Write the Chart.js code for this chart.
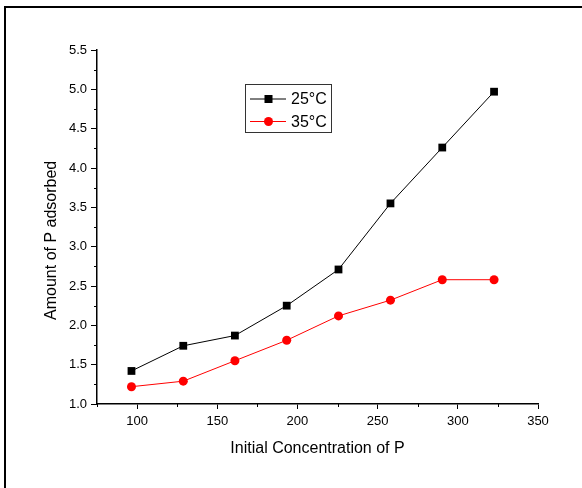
<!DOCTYPE html>
<html>
<head>
<meta charset="utf-8">
<script src="https://cdn.jsdelivr.net/npm/chart.js@4/dist/chart.umd.min.js"></script>
<style>
  html, body { margin: 0; padding: 0; background: #fff; }
  #wrap { position: relative; width: 582px; height: 488px; overflow: hidden; }
  #frame { position: absolute; left: 4px; top: 6px; width: 600px; height: 500px; border: 2px solid #000; box-sizing: border-box; }
  canvas { position: absolute; left: 0; top: 0; }
</style>
</head>
<body>
<div id="wrap">
  <div id="frame"></div>
  <canvas id="c" width="582" height="488"></canvas>
</div>
<script>
const concentrations = [96.5, 128.8, 161.0, 193.3, 225.6, 258.0, 290.3, 322.6];
const adsorbed25 = [1.42, 1.74, 1.87, 2.25, 2.71, 3.55, 4.26, 4.97];
const adsorbed35 = [1.22, 1.29, 1.55, 1.81, 2.12, 2.32, 2.58, 2.58];
const seriesLabels = ['25°C', '35°C'];
const xTitle = 'Initial Concentration of P';
const yTitle = 'Amount of P adsorbed';

const toXY = (xs, ys) => xs.map((x, i) => ({ x: x, y: ys[i] }));

const minorTicks = {
  id: 'minorTicks',
  afterDraw(chart) {
    const ctx = chart.ctx;
    const xs = chart.scales.x, ys = chart.scales.y;
    ctx.save();
    ctx.strokeStyle = '#000';
    ctx.lineWidth = 1;
    ctx.beginPath();
    for (let v = 1.25; v < 5.5; v += 0.5) {
      const py = Math.round(ys.getPixelForValue(v)) + 0.5;
      ctx.moveTo(xs.left - 3, py); ctx.lineTo(xs.left, py);
    }
    for (let v = 75; v < 350; v += 50) {
      const px = Math.round(xs.getPixelForValue(v)) + 0.5;
      ctx.moveTo(px, ys.bottom); ctx.lineTo(px, ys.bottom + 3);
    }
    ctx.stroke();
    ctx.restore();
  }
};

const boxLegend = {
  id: 'boxLegend',
  afterDraw(chart) {
    const ctx = chart.ctx;
    ctx.save();
    ctx.strokeStyle = '#333';
    ctx.lineWidth = 1;
    ctx.strokeRect(245.5, 84.5, 86, 48);
    const rows = [99, 121.5];
    chart.data.datasets.forEach((ds, i) => {
      const y = rows[i];
      ctx.strokeStyle = ds.borderColor;
      ctx.lineWidth = 1;
      ctx.beginPath();
      ctx.moveTo(250, y); ctx.lineTo(286, y);
      ctx.stroke();
      ctx.fillStyle = ds.pointBackgroundColor;
      if (ds.pointStyle === 'rect') {
        ctx.fillRect(264.5, y - 4, 8, 8);
      } else {
        ctx.beginPath();
        ctx.arc(268.5, y, 4.5, 0, Math.PI * 2);
        ctx.fill();
      }
      ctx.fillStyle = '#000';
      ctx.font = '16px "Liberation Sans", Arial, sans-serif';
      ctx.textBaseline = 'middle';
      ctx.textAlign = 'left';
      ctx.fillText(ds.label, 291, y + 1);
    });
    ctx.restore();
  }
};

new Chart(document.getElementById('c'), {
  type: 'scatter',
  data: {
    datasets: [
      {
        label: seriesLabels[0],
        data: toXY(concentrations, adsorbed25),
        showLine: true,
        borderColor: '#000000',
        borderWidth: 1,
        pointStyle: 'rect',
        pointRadius: 5.5,
        pointBackgroundColor: '#000000',
        pointBorderColor: '#000000',
        pointBorderWidth: 0,
        clip: false
      },
      {
        label: seriesLabels[1],
        data: toXY(concentrations, adsorbed35),
        showLine: true,
        borderColor: '#ff0000',
        borderWidth: 1,
        pointStyle: 'circle',
        pointRadius: 4.5,
        pointBackgroundColor: '#ff0000',
        pointBorderColor: '#ff0000',
        pointBorderWidth: 0,
        clip: false
      }
    ]
  },
  options: {
    responsive: false,
    animation: false,
    events: [],
    layout: { padding: { left: 0, top: 50, right: 44, bottom: 0 } },
    plugins: { legend: { display: false }, tooltip: { enabled: false } },
    scales: {
      x: {
        type: 'linear',
        min: 75, max: 350,
        afterFit: s => { s.height = 84; },
        afterBuildTicks: s => { s.ticks = s.ticks.filter(t => t.value % 50 === 0); },
        ticks: {
          stepSize: 50,
          color: '#000',
          padding: 5,
          font: { family: '"Liberation Sans", Arial, sans-serif', size: 13 },
          maxRotation: 0
        },
        grid: { display: true, drawOnChartArea: false, drawTicks: true, tickLength: 5, tickColor: '#000', tickWidth: 1 },
        border: { display: true, color: '#000', width: 1.5 },
        title: {
          display: true,
          text: xTitle,
          color: '#000',
          font: { family: '"Liberation Sans", Arial, sans-serif', size: 16 },
          padding: { top: 0, bottom: 30 }
        }
      },
      y: {
        type: 'linear',
        min: 1, max: 5.5,
        afterFit: s => { s.width = 97; },
        ticks: {
          stepSize: 0.5,
          color: '#000',
          padding: 4,
          font: { family: '"Liberation Sans", Arial, sans-serif', size: 13 },
          callback: v => Number(v).toFixed(1)
        },
        grid: { display: true, drawOnChartArea: false, drawTicks: true, tickLength: 6, tickColor: '#000', tickWidth: 1 },
        border: { display: true, color: '#000', width: 1.5 },
        title: {
          display: true,
          text: yTitle + '      ',
          color: '#000',
          font: { family: '"Liberation Sans", Arial, sans-serif', size: 16 },
          padding: { top: 42, bottom: 0 }
        }
      }
    }
  },
  plugins: [minorTicks, boxLegend]
});
</script>
</body>
</html>
